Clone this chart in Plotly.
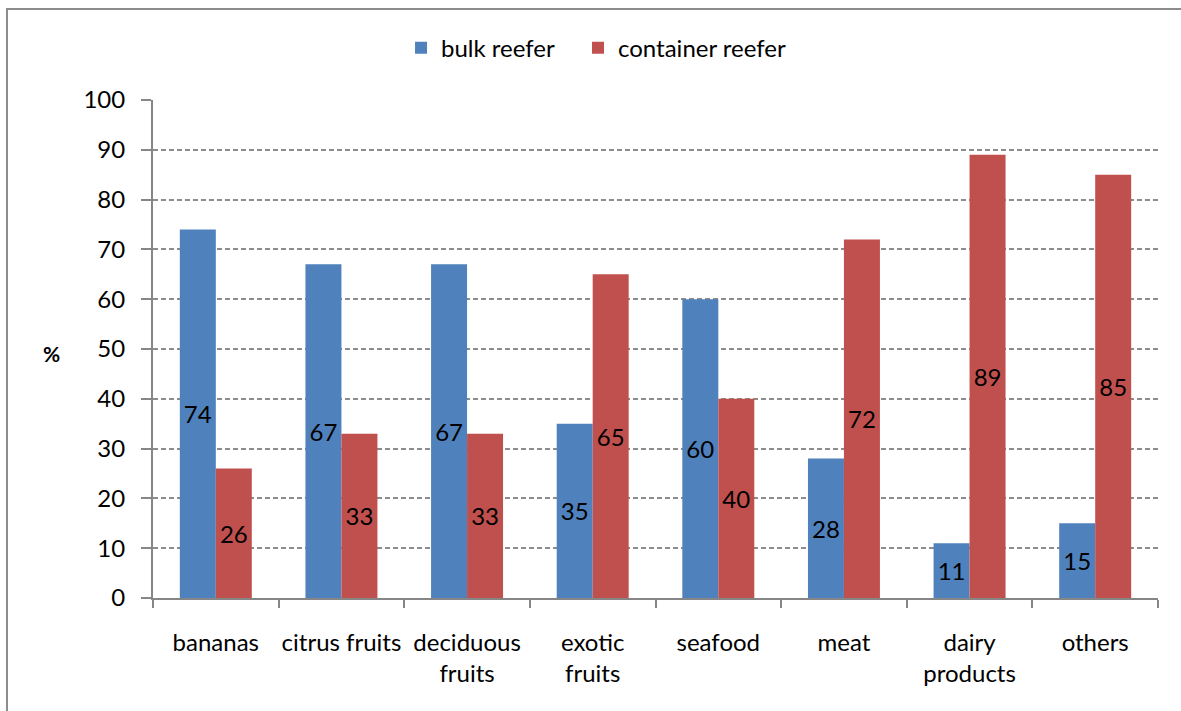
import plotly.graph_objects as go

categories = ["bananas", "citrus fruits", "deciduous<br>fruits", "exotic<br>fruits",
              "seafood", "meat", "dairy<br>products", "others"]
bulk_reefer = [74, 67, 67, 35, 60, 28, 11, 15]
container_reefer = [26, 33, 33, 65, 40, 72, 89, 85]
y_ticks = list(range(0, 101, 10))

FONT = "Lato"
FS = 24
AXIS_GRAY = "#868686"

fig = go.Figure()
fig.add_trace(go.Bar(
    name="bulk reefer", x=categories, y=bulk_reefer, legend="legend",
    marker=dict(color="#4F81BD", line=dict(width=0)),
    text=bulk_reefer, textposition="inside", insidetextanchor="middle",
    textfont=dict(color="black", size=FS, family=FONT), textangle=0,
))
fig.add_trace(go.Bar(
    name="container reefer", x=categories, y=container_reefer, legend="legend2",
    marker=dict(color="#C0504D", line=dict(width=0)),
    text=container_reefer, textposition="inside", insidetextanchor="middle",
    textfont=dict(color="black", size=FS, family=FONT), textangle=0,
))

legend_style = dict(orientation="h", xanchor="left", y=1.104, yanchor="middle",
                    font=dict(size=FS), bgcolor="rgba(0,0,0,0)")

fig.update_layout(
    width=1181, height=711,
    margin=dict(l=153, r=23, t=100, b=113, autoexpand=False),
    paper_bgcolor="white", plot_bgcolor="white",
    font=dict(family=FONT, size=FS, color="black"),
    barmode="group", bargap=0.427, bargroupgap=0,
    showlegend=True,
    legend=dict(x=0.2468, **legend_style),
    legend2=dict(x=0.4229, **legend_style),
    xaxis=dict(
        showline=True, linecolor=AXIS_GRAY, linewidth=2,
        ticks="outside", tickson="boundaries", ticklen=8, tickcolor=AXIS_GRAY, tickwidth=2,
        showgrid=False, ticklabelstandoff=22, tickfont=dict(size=FS),
        tickangle=0, automargin=False,
    ),
    yaxis=dict(
        range=[0, 100], tickvals=y_ticks,
        showline=True, linecolor=AXIS_GRAY, linewidth=2,
        ticks="outside", ticklen=10, tickcolor=AXIS_GRAY, tickwidth=2,
        showgrid=True, gridcolor="#8C8C8C", gridwidth=1.5, griddash="5px,3px",
        zeroline=False, ticklabelstandoff=11, tickfont=dict(size=FS),
        automargin=False,
    ),
)

# y-axis title drawn horizontally beside the axis
fig.add_annotation(text="<b>%</b>", xref="paper", yref="paper",
                   x=-0.1005, xanchor="center", y=0.49, yanchor="middle", showarrow=False,
                   font=dict(size=21, family=FONT, color="black"))

# chart frame
fig.add_shape(type="rect", xref="paper", yref="paper",
              x0=-0.1453, y0=-0.3, x1=1.2, y1=1.1827,
              line=dict(color="#8C8C8C", width=2), layer="below")

fig.write_html("out.html")
